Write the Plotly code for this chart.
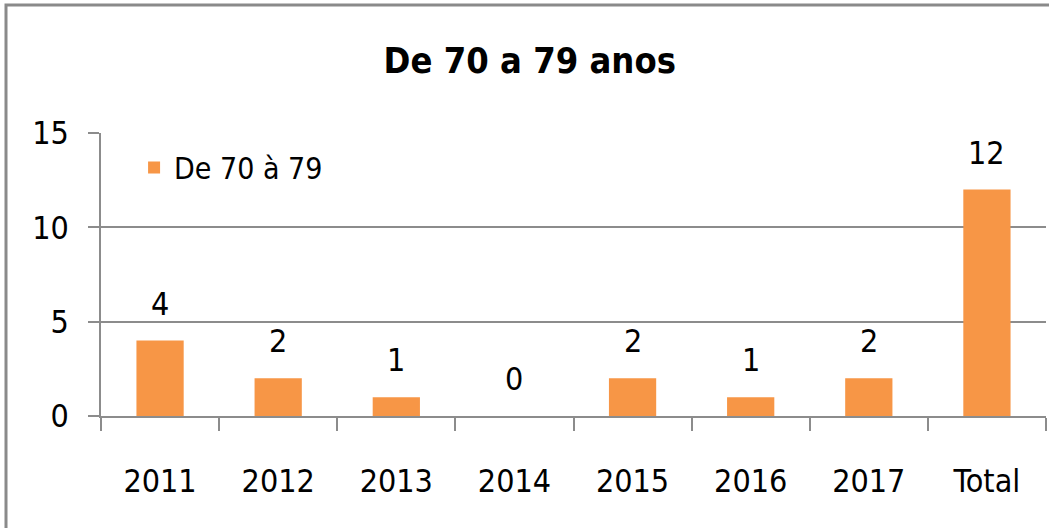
import plotly.graph_objects as go

categories = ["2011", "2012", "2013", "2014", "2015", "2016", "2017", "Total"]
values = [4, 2, 1, 0, 2, 1, 2, 12]
series_name = "De 70 à 79"
title_text = "De 70 a 79 anos"
y_ticks = [0, 5, 10, 15]

FONT = "Liberation Sans Narrow, DejaVu Sans Condensed, sans-serif"
GRAY = "#8c8c8c"

fig = go.Figure()
fig.add_trace(go.Bar(
    x=categories, y=values, name=series_name,
    marker=dict(color="#F79646", line=dict(width=0)),
    cliponaxis=False,
))

# data labels placed via the category axis (index position) and the value scale
for i, v in enumerate(values):
    fig.add_annotation(x=i, y=v, xref="x", yref="y", text=str(v), showarrow=False,
                       xanchor="center", yanchor="bottom", yshift=16,
                       font=dict(size=32, color="#000000", family=FONT))

fig.update_layout(
    width=1049, height=528,
    margin=dict(l=101, r=3, t=133, b=112),
    paper_bgcolor="white", plot_bgcolor="white",
    bargap=0.6,
    showlegend=True,
    title=dict(text="<b>" + title_text + "</b>", x=0.505, xanchor="center",
               y=0.885, yanchor="middle",
               font=dict(size=36, color="#000000", family=FONT)),
    legend=dict(x=0.035, y=0.97, xanchor="left", yanchor="top",
                font=dict(size=30, color="#000000", family=FONT),
                bgcolor="rgba(0,0,0,0)", itemsizing="constant"),
    font=dict(family=FONT),
    xaxis=dict(
        type="category", range=[-0.5, 7.5],
        showline=True, linecolor=GRAY, linewidth=1.5,
        ticks="outside", tickson="boundaries", ticklen=13, tickcolor=GRAY, tickwidth=1.5,
        tickfont=dict(size=32, color="#000000", family=FONT),
        ticklabelstandoff=36,
        showgrid=False, zeroline=False,
    ),
    yaxis=dict(
        range=[0, 15], tickvals=y_ticks,
        showline=True, linecolor=GRAY, linewidth=1.5,
        ticks="outside", ticklen=11, tickcolor=GRAY, tickwidth=1.5,
        tickfont=dict(size=32, color="#000000", family=FONT),
        ticklabelstandoff=13,
        showgrid=True, gridcolor=GRAY, gridwidth=1.5,
        zeroline=False,
    ),
    shapes=[dict(type="rect", xref="paper", yref="paper",
                 x0=(6 - 101) / 945, x1=1.2, y0=-1.0, y1=(416 - 5) / 283,
                 line=dict(color="#8a8a8a", width=3), fillcolor="rgba(0,0,0,0)",
                 layer="below")],
)

fig.write_html("out.html", config={"displayModeBar": False},
               post_script="document.body.style.margin='0';")
